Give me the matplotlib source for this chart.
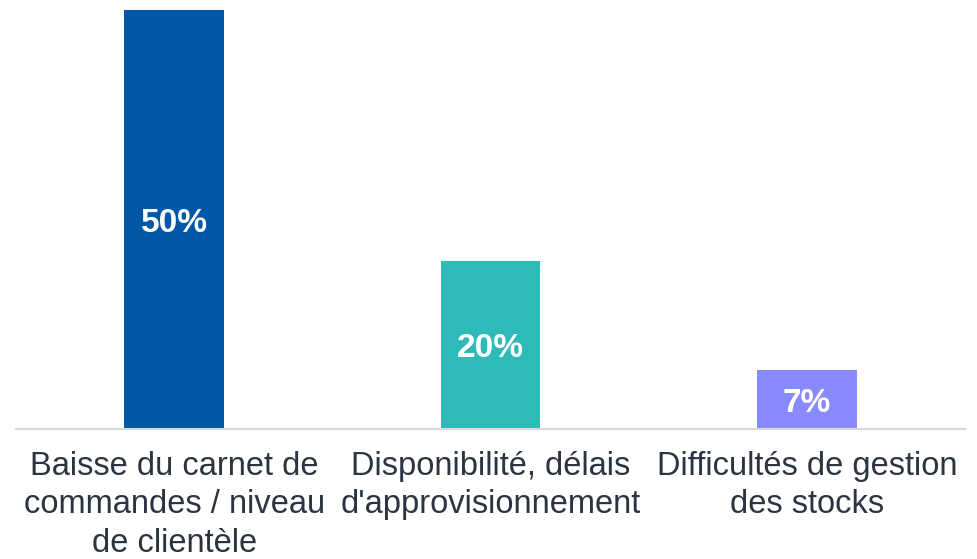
import matplotlib.pyplot as plt

plt.rcParams['font.family'] = ['Liberation Sans', 'DejaVu Sans']

categories = ["Baisse du carnet de\ncommandes / niveau\nde clientèle",
              "Disponibilité, délais\nd'approvisionnement",
              "Difficultés de gestion\ndes stocks"]
values = [50, 20, 7]
colors = ['#0057A6', '#2EBBB8', '#8A8AFF']

fig = plt.figure(figsize=(9.78, 5.59), dpi=100)
ax = fig.add_axes([16 / 978, 130 / 559, 949 / 978, 419 / 559])

x = range(len(values))
bars = ax.bar(x, values, width=0.316, color=colors)
for xi, v in zip(x, values):
    ax.text(xi, v / 2, f"{v}%", ha='center', va='center_baseline', color='white',
            fontsize=24, fontweight='bold')

ax.set_xlim(-0.5, 2.5)
ax.set_ylim(0, 50)
ax.set_xticks(list(x))
ax.set_xticklabels(categories, fontsize=23.5, color='#2B3440', linespacing=1.3)
ax.tick_params(axis='x', length=0, pad=16)
ax.set_yticks([])
for side in ['top', 'right', 'left']:
    ax.spines[side].set_visible(False)
ax.spines['bottom'].set_color('#D9D9D9')
ax.spines['bottom'].set_linewidth(1.5)

fig.savefig('out.png', dpi=100)
